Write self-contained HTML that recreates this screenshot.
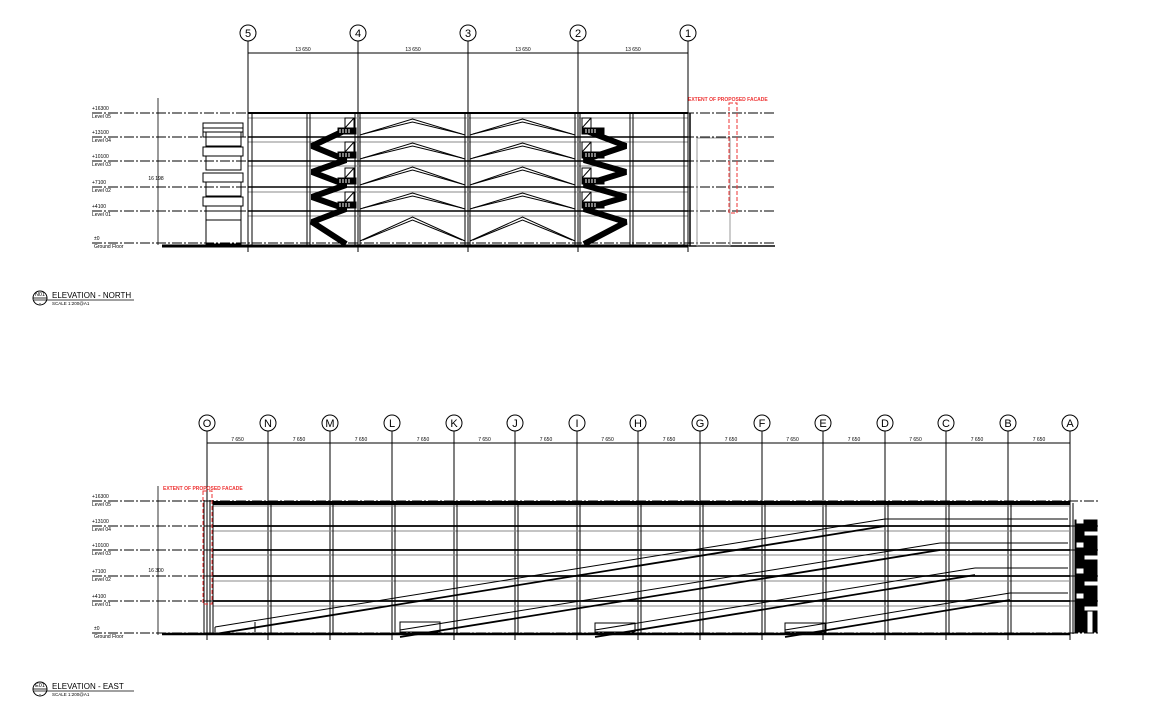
<!DOCTYPE html>
<html><head><meta charset="utf-8"><style>
html,body{margin:0;padding:0;background:#fff;width:1154px;height:706px;overflow:hidden}
svg{display:block;font-family:"Liberation Sans",sans-serif}
</style></head><body>
<svg id="s" width="1154" height="706" viewBox="0 0 1154 706" xmlns="http://www.w3.org/2000/svg"></svg>
<script>
var s=document.getElementById('s'),h='';
function L(x1,y1,x2,y2,w,c,d){h+='<line x1="'+x1+'" y1="'+y1+'" x2="'+x2+'" y2="'+y2+'" stroke="'+(c||'#000')+'" stroke-width="'+(w||1)+'"'+(d?' stroke-dasharray="'+d+'"':'')+'/>';}
function R(x,y,w,hh,sw,c,f){h+='<rect x="'+x+'" y="'+y+'" width="'+w+'" height="'+hh+'" fill="'+(f||'none')+'" stroke="'+(c||'#000')+'" stroke-width="'+(sw||1)+'"/>';}
function T(x,y,t,sz,c,a,b){h+='<text x="'+x+'" y="'+y+'" font-size="'+sz+'" fill="'+(c||'#000')+'"'+(a?' text-anchor="'+a+'"':'')+(b?' font-weight="bold"':'')+'>'+t+'</text>';}
function P(pts,w,c,j){h+='<polyline points="'+pts+'" fill="none" stroke="'+(c||'#000')+'" stroke-width="'+w+'" stroke-linejoin="'+(j||'miter')+'"/>';}
function C(x,y,r,t){h+='<circle cx="'+x+'" cy="'+y+'" r="'+r+'" fill="#fff" stroke="#000" stroke-width="1"/>';if(t)T(x,y+4,t,11,'#000','middle');}
var DD='10,2,2,2';
/* ============ NORTH ============ */
var nx=[248,358,468,578,688],nl=['5','4','3','2','1'];
var nyL=[113,137,161,187,211,243];
var nN=[['+16300','Level 05'],['+13100','Level 04'],['+10100','Level 03'],['+7100','Level 02'],['+4100','Level 01'],['±0','Ground Floor']];
L(248,53,688,53,1);
for(var i=0;i<5;i++){C(nx[i],33,8,nl[i]);L(nx[i],41,nx[i],252,1);if(i<4)T((nx[i]+nx[i+1])/2,51,'13 650',5,'#000','middle');}
for(var i=0;i<nyL.length;i++){var y=nyL[i];L(92,y,775,y,1,'#000',DD);T(i==5?94:92,y-3,nN[i][0],5);T(i==5?94:92,y+5,nN[i][1],5);}
L(158,98,158,245,0.8);T(156,180,'16 198',5,'#000','middle');
for(var i=0;i<5;i++){var y=nyL[i];L(248,y,688,y,i==0?2:1.6);L(248,y+5,688,y+5,1,'#888');}
L(162,246,688,246,3);L(688,246,775,246,2,'#444');
[248,252,307,310,355,360,465,470,575,580,630,633,684,688].forEach(function(x){L(x,113,x,246,1);});
for(var i=0;i<4;i++){var y=nyL[i+1];R(203,y-14,40,9,1);R(206,y-5,35,14,1);}
R(203,128,40,9,1);R(206,211,35,33,1);
[[360,465],[470,575]].forEach(function(b){var m=(b[0]+b[1])/2;
 for(var i=0;i<5;i++){var top=nyL[i]+5,bot=nyL[i+1]-2;
  P(b[0]+','+bot+' '+m+','+(top+1)+' '+b[1]+','+bot,1);P((b[0]+3)+','+(bot-1)+' '+m+','+(top+4)+' '+(b[1]-3)+','+(bot-1),1);}
});
function stair(xl,xr,flip){var pts=[],ys=[130,146,160,172,185,197,209,222,244];
 for(var i=0;i<ys.length;i++){var r=(i%2==0)!=flip;pts.push((r?xr:xl)+','+ys[i]);}
 P(pts.join(' '),6,'#000','bevel');
 for(var i=0;i<4;i++){var y=nyL[i+1],bx=flip?582:345;R(bx,y-19,9,10,1);L(bx,y-9,bx+9,y-19,1);R(flip?582:338,y-9,flip?22:18,6,1,'#000','#000');
  for(var k=0;k<4;k++)L((flip?586:340)+k*3,y-8,(flip?586:340)+k*3,y-4,1,'#fff');}
}
stair(312,346,false);stair(584,626,true);
R(697,138,33,108,1,'#999');L(690,113,690,246,1.5);
h+='<rect x="729" y="103" width="8" height="110" fill="none" stroke="#e33" stroke-width="1" stroke-dasharray="4,2"/>';
T(688,101,'EXTENT OF PROPOSED FACADE',5,'#e33','start',true);
C(40,298,7,'');L(33,298,47,298,0.8);
T(40,296,'N01',5.5,'#000','middle');T(40,305,'-',6,'#000','middle');
T(52,298,'ELEVATION - NORTH',8);L(34,300,134,300,0.8);T(52,305,'SCALE 1:200@A1',4.5);
/* ============ EAST ============ */
var ex=[207,268,330,392,454,515,577,638,700,762,823,885,946,1008,1070],el='ONMLKJIHGFEDCBA';
var eyL=[501,526,550,576,601,633];
L(207,443,1070,443,1);
for(var i=0;i<15;i++){C(ex[i],423,8,el[i]);L(ex[i],431,ex[i],640,1);if(i<14)T((ex[i]+ex[i+1])/2,441,'7 650',5,'#000','middle');}
for(var i=0;i<eyL.length;i++){var y=eyL[i];L(92,y,1100,y,1,'#000',DD);T(i==5?94:92,y-3,nN[i][0],5);T(i==5?94:92,y+5,nN[i][1],5);}
L(158,486,158,635,0.8);T(156,572,'16 300',5,'#000','middle');
L(213,503,1070,503,4);
for(var i=1;i<5;i++){L(213,eyL[i],1070,eyL[i],1.8);}
for(var i=0;i<5;i++)L(213,eyL[i]+5,1070,eyL[i]+5,1,'#888');
L(162,634,1070,634,2.5);
ex.forEach(function(x,i){if(i>0)L(x+3,503,x+3,634,1);});
L(204,500,204,634,1);L(210,500,210,634,1);L(213,500,213,634,1);
function ramp(x0,y0,x1,y1){L(x0,y0,x1,y1,1);L(x0,y0+7,x1,y1+7,1.8);}
ramp(215,627,885,519);L(215,627,215,634,1);L(255,622,255,632,1);
ramp(400,630,940,543);ramp(595,630,975,568);ramp(785,630,1010,593);
L(885,519,1068,519,1);L(885,526,1068,526,1);L(940,543,1068,543,1);L(975,568,1068,568,1);L(1010,593,1068,593,1);
R(400,622,40,10,1);R(595,623,40,9,1);R(785,623,40,9,1);
R(1075,520,22,112,0,'#000','#000');
for(var i=0;i<4;i++){var y=eyL[i+1];R(1077,y-7,6,4,0,'#fff','#fff');R(1085,y+6,12,3,0,'#fff','#fff');}
R(1088,612,4,20,0,'#fff','#fff');
h+='<rect x="203" y="491" width="9" height="113" fill="none" stroke="#e33" stroke-width="1" stroke-dasharray="4,2"/>';
T(163,490,'EXTENT OF PROPOSED FACADE',5,'#e33','start',true);
C(40,689,7,'');L(33,689,47,689,0.8);
T(40,687,'E01',5.5,'#000','middle');T(40,696,'-',6,'#000','middle');
T(52,689,'ELEVATION - EAST',8);L(34,691,134,691,0.8);T(52,696,'SCALE 1:200@A1',4.5);
s.innerHTML=h;
</script>
</body></html>
